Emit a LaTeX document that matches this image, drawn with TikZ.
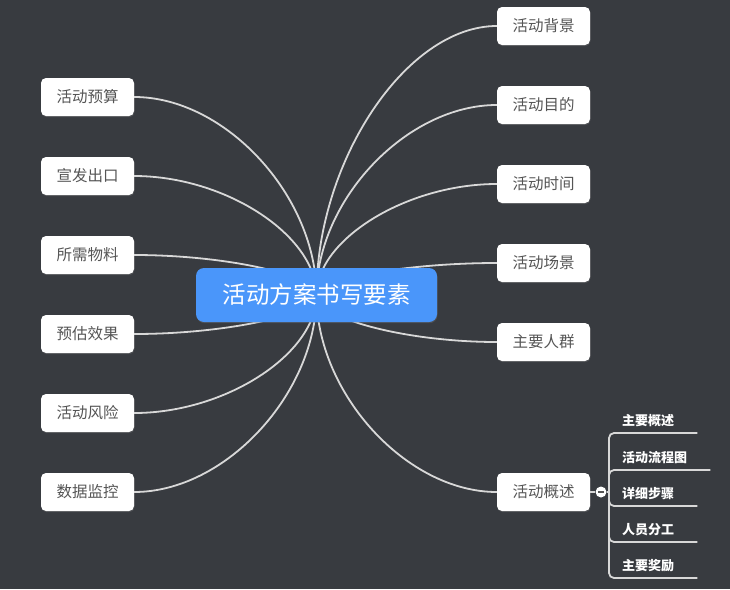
\documentclass[tikz,border=0pt]{standalone}
\usepackage{fontspec}
\setmainfont{Noto Sans CJK SC}
\usepackage{xcolor}
\usepackage{tikz}
\usetikzlibrary{positioning,calc,shadows}
\definecolor{slate}{HTML}{383B40}
\definecolor{hubblue}{HTML}{4A96FA}
\definecolor{wire}{HTML}{D8D8D8}
\definecolor{inkgray}{HTML}{555555}

\begin{document}
\begin{tikzpicture}[x=1pt,y=-1pt,node distance=40.6pt, every node/.style={font=\fontsize{15.5}{18}\selectfont}]
\tikzstyle{leaf}=[fill=white,rounded corners=5pt,minimum width=93pt,minimum height=38pt,inner sep=0pt,text=inkgray,drop shadow={opacity=.3,shadow xshift=.5pt,shadow yshift=-1.2pt}]
\tikzstyle{hubbox}=[fill=hubblue,rounded corners=8pt,minimum width=241pt,minimum height=54pt,inner sep=0pt,text=white,font=\fontsize{23.5}{27}\selectfont,drop shadow={opacity=.3,shadow xshift=.5pt,shadow yshift=-1.2pt}]
\tikzstyle{branch}=[draw=wire,line width=1.8pt,to path={.. controls ($(\tikztostart)!.5!(\tikztostart |- \tikztotarget)$) and ($(\tikztotarget)!.5!(\tikztostart |- \tikztotarget)$) .. (\tikztotarget)}]
\tikzstyle{sub}=[anchor=south west,inner xsep=13pt,inner ysep=6pt,text width=62pt,align=left,text=white,font=\bfseries\fontsize{13}{15}\selectfont]
\tikzstyle{twig}=[draw=wire,line width=1.8pt,rounded corners=5pt]
\tikzstyle{knob}=[circle,fill=white,minimum size=11pt,inner sep=0pt]
\fill[slate] (0,0) rectangle (730,589);
\coordinate (core) at (316.5,295);
% left side
\node[leaf] (budget) at (87.5,97) {活动预算};
\node[leaf,below=of budget] (promo) {宣发出口};
\node[leaf,below=of promo] (supply) {所需物料};
\node[leaf,below=of supply] (effect) {预估效果};
\node[leaf,below=of effect] (risk) {活动风险};
\node[leaf,below=of risk] (watch) {数据监控};
% right side
\node[leaf] (backdrop) at (543.5,26) {活动背景};
\node[leaf,below=of backdrop] (goal) {活动目的};
\node[leaf,below=of goal] (when) {活动时间};
\node[leaf,below=of when] (scene) {活动场景};
\node[leaf,below=of scene] (crowd) {主要人群};
\node[leaf] (summary) at (543.5,492) {活动概述};
\draw[branch] (core) to (budget.east);
\draw[branch] (core) to (promo.east);
\draw[branch] (core) to (supply.east);
\draw[branch] (core) to (effect.east);
\draw[branch] (core) to (risk.east);
\draw[branch] (core) to (watch.east);
\draw[branch] (core) to (backdrop.west);
\draw[branch] (core) to (goal.west);
\draw[branch] (core) to (when.west);
\draw[branch] (core) to (scene.west);
\draw[branch] (core) to (crowd.west);
\draw[branch] (core) to (summary.west);
\node[hubbox] (hub) at (core) {活动方案书写要素};
% details of the overview
\node[knob] (knob) at (601,492) {};
\coordinate (fork) at (609,492);
\draw[twig] (summary.east) -- (knob);
\draw[twig] (knob) -- (fork);
\draw[line width=1.3pt,color=inkgray] ([xshift=-3pt]knob.center) -- ([xshift=3pt]knob.center);
\node[sub] (outline) at (609,433) {主要概述};
\node[sub,text width=75pt] (flow) at (609,470) {活动流程图};
\node[sub] (steps) at (609,506) {详细步骤};
\node[sub] (roles) at (609,542) {人员分工};
\node[sub] (reward) at (609,578) {主要奖励};
\draw[twig] (fork) |- (outline.south east);
\draw[twig] (fork) |- (flow.south east);
\draw[twig] (fork) |- (steps.south east);
\draw[twig] (fork) |- (roles.south east);
\draw[twig] (fork) |- (reward.south east);
\end{tikzpicture}
\end{document}
